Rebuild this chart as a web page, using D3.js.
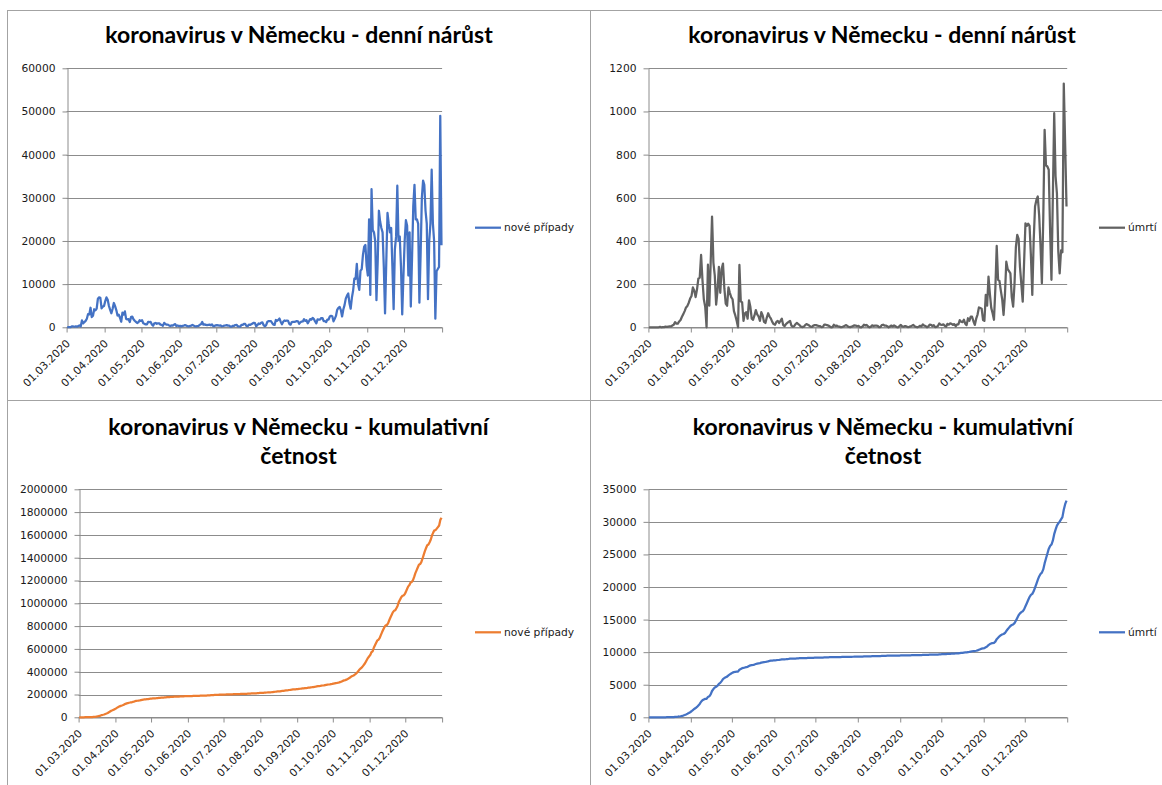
<!DOCTYPE html>
<html>
<head>
<meta charset="utf-8">
<script src="https://cdn.jsdelivr.net/npm/d3@7"></script>
<style>
  body { margin: 0; background: #fff; }
  svg { display: block; }
</style>
</head>
<body>
<div class="chart"></div>
<script>
// daily new cases in Germany, 01.03.2020 - 31.12.2020 (one row per month)
var dailyCases = [
  51, 29, 37, 66, 220, 188, 129, 241, 136, 281, 451, 170, 1597, 910, 1210, 1477, 1985, 3070, 2993, 4528, 2365, 2660, 4183, 3930, 4337, 6615, 6933, 6824, 4400, 4790, 4923,
  6064, 6922, 6365, 4933, 4031, 3251, 4289, 5633, 4885, 3990, 2737, 2946, 2218, 1287, 3394, 2945, 3699, 1945, 1842, 1881, 1226, 2357, 2481, 1870, 1514, 1257, 988, 1154, 1627, 1470,
  1639, 945, 793, 679, 685, 1271, 1209, 1251, 667, 357, 933, 1001, 798, 933, 913, 620, 583, 342, 1034, 746, 593, 638, 431, 289, 432, 362, 613, 741, 286, 416, 286,
  333, 213, 342, 406, 507, 407, 254, 214, 307, 362, 555, 394, 247, 192, 297, 345, 580, 700, 1250, 601, 687, 537, 503, 587, 630, 477, 687, 256, 298, 466,
  503, 446, 378, 420, 239, 298, 397, 442, 498, 395, 378, 159, 159, 353, 351, 534, 583, 202, 186, 159, 589, 569, 815, 781, 305, 253, 633, 557, 684, 870, 1033,
  955, 240, 509, 879, 741, 1045, 1147, 555, 240, 436, 1226, 1445, 1449, 1415, 1006, 625, 561, 1693, 1510, 1707, 2034, 1231, 711, 1278, 1576, 1507, 1571, 1479, 782, 610, 1218,
  1256, 1256, 1311, 1453, 1378, 814, 1148, 1326, 1361, 1892, 1484, 1630, 924, 1407, 1901, 1769, 2194, 1916, 1345, 922, 1821, 1769, 1769, 2143, 2153, 1410, 1411, 1192, 1798, 1798,
  2503, 2673, 2563, 1382, 1958, 2639, 4058, 4516, 4721, 3981, 2510, 4122, 5132, 6638, 7334, 7830, 5587, 4325, 6868, 8523, 11287, 11242, 14714, 10028, 8685, 13133, 13467, 16774, 18681, 19059, 14177,
  12000, 25000, 7500, 32000, 22500, 22000, 20000, 6300, 15000, 27000, 24500, 23000, 22000, 14000, 3200, 15000, 26500, 24000, 22000, 23000, 14000, 4200, 18000, 21000, 32800, 20000, 21000, 14000, 3000, 12000,
  20000, 24800, 23500, 12000, 22000, 4800, 16000, 28000, 33000, 25000, 25000, 24000, 5700, 17000, 30000, 34000, 33000, 27000, 24000, 6500, 20000, 24000, 36500, 24000, 20000, 2000, 13000, 13500, 14000, 49000, 19000
];

// daily deaths in Germany, 01.03.2020 - 31.12.2020
var dailyDeaths = [
  0, 0, 0, 0, 0, 0, 0, 0, 2, 0, 1, 1, 3, 2, 3, 4, 4, 8, 12, 24, 17, 17, 27, 34, 49, 61, 75, 92, 99, 114, 133,
  145, 185, 170, 140, 175, 225, 230, 335, 220, 130, 95, 0, 290, 100, 300, 513, 300, 240, 105, 170, 280, 160, 270, 295, 180, 110, 100, 185, 160, 140,
  130, 75, 55, 30, 0, 289, 120, 115, 30, 65, 70, 40, 125, 95, 40, 35, 55, 80, 60, 50, 30, 70, 55, 25, 20, 45, 65, 50, 40, 25, 15,
  12, 25, 30, 20, 30, 40, 10, 5, 15, 20, 25, 30, 8, 3, 5, 15, 20, 15, 10, 3, 1, 3, 10, 15, 12, 8, 3, 2, 8, 10,
  10, 8, 6, 5, 1, 2, 12, 12, 10, 8, 4, 0, 1, 12, 6, 8, 5, 3, 1, 1, 4, 7, 10, 5, 2, 1, 3, 6, 9, 8, 5,
  7, 1, 0, 4, 12, 8, 11, 4, 0, 2, 9, 6, 8, 8, 7, 1, 1, 10, 12, 8, 8, 5, 0, 4, 8, 4, 9, 5, 1, 0, 6,
  11, 4, 3, 6, 4, 1, 2, 4, 7, 11, 5, 2, 0, 3, 7, 4, 13, 8, 6, 0, 4, 12, 11, 6, 10, 1, 2, 6, 18, 12,
  11, 14, 7, 3, 16, 12, 18, 16, 11, 15, 5, 13, 13, 33, 26, 24, 35, 17, 10, 42, 30, 49, 49, 28, 11, 40, 59, 92, 89, 86, 34,
  30, 150, 100, 235, 155, 90, 65, 35, 180, 377, 220, 215, 170, 130, 57, 150, 304, 270, 260, 250, 140, 96, 200, 371, 428, 410, 280, 200, 119, 300,
  482, 470, 480, 470, 330, 150, 400, 560, 590, 606, 520, 380, 204, 500, 915, 750, 745, 730, 450, 220, 600, 992, 700, 620, 350, 250, 356, 348, 1129, 850, 560
];

// x axis labels (first day of each month)
var monthLabels = ["01.03.2020", "01.04.2020", "01.05.2020", "01.06.2020", "01.07.2020",
  "01.08.2020", "01.09.2020", "01.10.2020", "01.11.2020", "01.12.2020"];

// y axis ticks of the four charts
var ticksDailyCases = [0, 10000, 20000, 30000, 40000, 50000, 60000];
var ticksDailyDeaths = [0, 200, 400, 600, 800, 1000, 1200];
var ticksCumCases = [0, 200000, 400000, 600000, 800000, 1000000, 1200000, 1400000, 1600000, 1800000, 2000000];
var ticksCumDeaths = [0, 5000, 10000, 15000, 20000, 25000, 30000, 35000];

var titleDaily = ["koronavirus v Německu - denní nárůst"];
var titleCum = ["koronavirus v Německu - kumulativní", "četnost"];
var legendCases = "nové případy";
var legendDeaths = "úmrtí";

// SET UP
var parseDay = d3.timeParse("%d.%m.%Y");
var firstDay = parseDay(monthLabels[0]);
var lastDay = new Date(2021, 0, 1);             // end of the date axis
var days = d3.timeDay.range(firstDay, lastDay);   // one category per value
var monthTicks = monthLabels.map(parseDay).concat([lastDay]);

var tickFont = "'DejaVu Sans', Verdana, sans-serif";
var titleFont = "Lato, 'Open Sans', sans-serif";
var gridColor = "#8c8c8c";

var svg = d3.select(".chart").append("svg")
  .attr("width", 1162)
  .attr("height", 785);

svg.append("rect").attr("width", 1162).attr("height", 785).style("fill", "#fff");

// panel frames
var frames = [[7, 10.5, 1162, 10.5], [7.5, 10, 7.5, 785], [590.5, 10, 590.5, 785], [7, 400.5, 1162, 400.5]];
svg.selectAll(".frame")
  .data(frames)
  .enter().append("line")
  .attr("class", "frame")
  .attr("x1", function (d) { return d[0]; })
  .attr("y1", function (d) { return d[1]; })
  .attr("x2", function (d) { return d[2]; })
  .attr("y2", function (d) { return d[3]; })
  .style("stroke", "#a3a3a3")
  .style("stroke-width", 1);

drawChart({
  values: dailyCases, color: "#4472C4", yTicks: ticksDailyCases,
  left: 66.6, right: 442.1, top: 68.3, bottom: 327.3,
  title: titleDaily, titleX: 299, titleY: 43.3,
  legend: legendCases, legendX: 475, legendY: 227.7
});
drawChart({
  values: dailyDeaths, color: "#626262", yTicks: ticksDailyDeaths,
  left: 648.4, right: 1067.2, top: 68.3, bottom: 327.3,
  title: titleDaily, titleX: 882, titleY: 43.3,
  legend: legendDeaths, legendX: 1099, legendY: 227.7
});
drawChart({
  values: d3.cumsum(dailyCases), color: "#ED7D31", yTicks: ticksCumCases,
  left: 78.6, right: 442.1, top: 489.3, bottom: 717.3,
  title: titleCum, titleX: 298.5, titleY: 435,
  legend: legendCases, legendX: 475, legendY: 632.3
});
drawChart({
  values: d3.cumsum(dailyDeaths), color: "#4472C4", yTicks: ticksCumDeaths,
  left: 648.4, right: 1067.2, top: 489.3, bottom: 717.3,
  title: titleCum, titleX: 883, titleY: 435,
  legend: legendDeaths, legendX: 1099, legendY: 632.3
});

function drawChart(cfg) {
  var g = svg.append("g");

  var x = d3.scaleTime()
    .domain([firstDay, lastDay])
    .range([cfg.left, cfg.right]);
  var y = d3.scaleLinear()
    .domain(d3.extent(cfg.yTicks))
    .range([cfg.bottom, cfg.top]);

  //Title, one text per line
  g.selectAll(".title")
    .data(cfg.title)
    .enter().append("text")
    .attr("class", "title")
    .attr("x", cfg.titleX)
    .attr("y", function (d, i) { return cfg.titleY + i * 29; })
    .attr("text-anchor", "middle")
    .style("font-family", titleFont)
    .style("font-weight", "bold")
    .style("font-size", "23px")
    .style("fill", "#000")
    .text(function (d) { return d; });

  //Horizontal grid
  g.selectAll(".grid")
    .data(cfg.yTicks)
    .enter().append("line")
    .attr("class", "grid")
    .attr("x1", cfg.left)
    .attr("x2", cfg.right)
    .attr("y1", function (d) { return Math.round(y(d)) + 0.5; })
    .attr("y2", function (d) { return Math.round(y(d)) + 0.5; })
    .style("stroke", gridColor)
    .style("stroke-width", 1);

  //Y axis
  var yAxis = g.append("g")
    .attr("transform", "translate(" + (Math.round(cfg.left) + 0.5) + ",0)")
    .call(d3.axisLeft(y).tickValues(cfg.yTicks).tickSize(5).tickSizeOuter(0).tickPadding(7).tickFormat(d3.format("d")));

  //X axis
  var xAxis = g.append("g")
    .attr("transform", "translate(0," + (Math.round(cfg.bottom) + 0.5) + ")")
    .call(d3.axisBottom(x).tickValues(monthTicks).tickSize(5).tickSizeOuter(0)
      .tickFormat(function (d) { return d < lastDay ? d3.timeFormat("%d.%m.%Y")(d) : ""; }));

  xAxis.selectAll("text")
    .attr("x", 0)
    .attr("y", 0)
    .attr("dy", "0.35em")
    .attr("transform", "translate(1,14) rotate(-45)")
    .style("text-anchor", "end");

  [yAxis, xAxis].forEach(function (a) {
    a.selectAll("path, line").style("stroke", gridColor);
    a.selectAll("text")
      .style("font-family", tickFont)
      .style("font-size", "10.7px")
      .style("fill", "#1a1a1a");
  });

  //The series line, each value sits in the middle of its day
  var line = d3.line()
    .x(function (d, i) { return x(d3.timeHour.offset(days[i], 12)); })
    .y(function (d) { return y(d); });

  g.append("path")
    .datum(Array.from(cfg.values))
    .attr("d", line)
    .style("fill", "none")
    .style("stroke", cfg.color)
    .style("stroke-width", 2.25)
    .style("stroke-linejoin", "round");

  //Legend
  g.append("line")
    .attr("x1", cfg.legendX)
    .attr("x2", cfg.legendX + 26)
    .attr("y1", cfg.legendY)
    .attr("y2", cfg.legendY)
    .style("stroke", cfg.color)
    .style("stroke-width", 2.25);
  g.append("text")
    .attr("x", cfg.legendX + 29)
    .attr("y", cfg.legendY)
    .attr("dy", "0.35em")
    .style("font-family", tickFont)
    .style("font-size", "10.7px")
    .style("fill", "#1a1a1a")
    .text(cfg.legend);
}
</script>
</body>
</html>
